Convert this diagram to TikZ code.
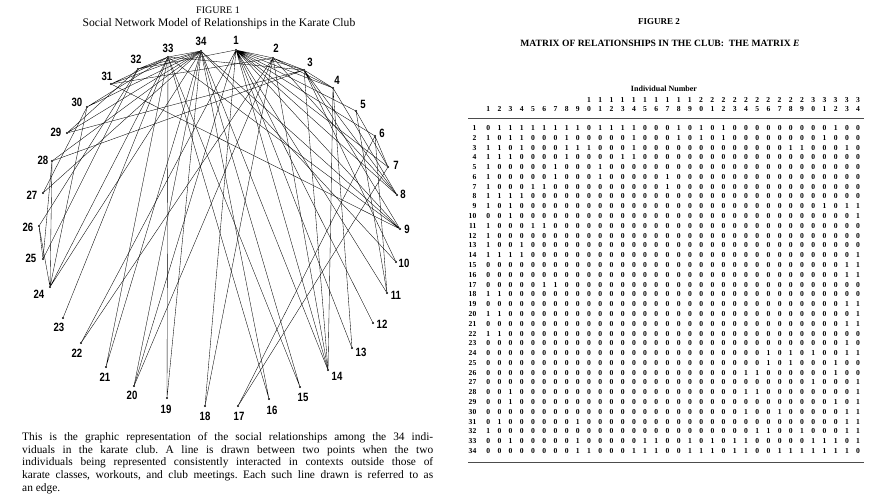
\documentclass[tikz,border=0pt]{standalone}
\usepackage{fontspec}
\setmainfont{Liberation Serif}
\newfontfamily\lblfont[FakeStretch=0.8]{Liberation Sans}
\usepackage{tikz}
\usetikzlibrary{shapes}
\newcommand{\mfont}{\fontsize{7.6bp}{8bp}\selectfont\bfseries}
\newcommand{\rl}[1]{\llap{#1\hspace{10bp}}}
\tikzset{
  vdot/.style={circle,fill=black,inner sep=0pt,minimum size=2.2bp},
  vlbl/.style={font=\lblfont\bfseries\fontsize{12bp}{12bp}\selectfont,inner sep=0pt},
  edge/.style={line width=0.35bp,black},
  mrow/.style={anchor=west,inner sep=0pt,font={\mfont\spaceskip=7.41bp\relax}},
  caprow/.style={anchor=base west,inner sep=0pt,font=\fontsize{11.4bp}{12bp}\selectfont\frenchspacing}
}

\begin{document}
\begin{tikzpicture}[x=1bp, y=-1bp]
  \useasboundingbox (0,0) rectangle (873,497);
%% figure 1: the club graph
  \node (fig1) at (218,10) [font=\fontsize{10bp}{10bp}\selectfont] {FIGURE 1};
  \node (fig1t) at (219,24) [font=\fontsize{11.6bp}{12bp}\selectfont] {Social Network Model of Relationships in the Karate Club};
  \node (v1) at (236,50) [vdot] {};
  \node (v2) at (273,58) [vdot] {};
  \node (v3) at (304,70) [vdot] {};
  \node (v4) at (333,88) [vdot] {};
  \node (v5) at (356,111) [vdot] {};
  \node (v6) at (375,136) [vdot] {};
  \node (v7) at (388,167) [vdot] {};
  \node (v8) at (397,195) [vdot] {};
  \node (v9) at (400,229) [vdot] {};
  \node (v10) at (396,262) [vdot] {};
  \node (v11) at (387,293) [vdot] {};
  \node (v12) at (373,323) [vdot] {};
  \node (v13) at (352,348) [vdot] {};
  \node (v14) at (328,370) [vdot] {};
  \node (v15) at (300,387) [vdot] {};
  \node (v16) at (269,399) [vdot] {};
  \node (v17) at (238,406) [vdot] {};
  \node (v18) at (205,406) [vdot] {};
  \node (v19) at (167,398) [vdot] {};
  \node (v20) at (134,386) [vdot] {};
  \node (v21) at (106,367) [vdot] {};
  \node (v22) at (81,343) [vdot] {};
  \node (v23) at (63,318) [vdot] {};
  \node (v24) at (50,287) [vdot] {};
  \node (v25) at (43,259) [vdot] {};
  \node (v26) at (39,226) [vdot] {};
  \node (v27) at (43,193) [vdot] {};
  \node (v28) at (52,161) [vdot] {};
  \node (v29) at (67,133) [vdot] {};
  \node (v30) at (87,107) [vdot] {};
  \node (v31) at (111,84) [vdot] {};
  \node (v32) at (138,69) [vdot] {};
  \node (v33) at (168,57) [vdot] {};
  \node (v34) at (201,51) [vdot] {};
  %% labels
  \node (n1) at (236,40) [vlbl] {1};
  \node (n2) at (276,48) [vlbl] {2};
  \node (n3) at (310,62) [vlbl] {3};
  \node (n4) at (337,80) [vlbl] {4};
  \node (n5) at (363,104) [vlbl] {5};
  \node (n6) at (382,133) [vlbl] {6};
  \node (n7) at (396,165) [vlbl] {7};
  \node (n8) at (403,194) [vlbl] {8};
  \node (n9) at (407,229) [vlbl] {9};
  \node (n10) at (404,263) [vlbl] {10};
  \node (n11) at (396,295) [vlbl] {11};
  \node (n12) at (382,324) [vlbl] {12};
  \node (n13) at (361,352) [vlbl] {13};
  \node (n14) at (337,376) [vlbl] {14};
  \node (n15) at (303,397) [vlbl] {15};
  \node (n16) at (272,410) [vlbl] {16};
  \node (n17) at (239,416) [vlbl] {17};
  \node (n18) at (205,416) [vlbl] {18};
  \node (n19) at (166,409) [vlbl] {19};
  \node (n20) at (132,395) [vlbl] {20};
  \node (n21) at (105,377) [vlbl] {21};
  \node (n22) at (77,353) [vlbl] {22};
  \node (n23) at (59,327) [vlbl] {23};
  \node (n24) at (39,294) [vlbl] {24};
  \node (n25) at (31,258) [vlbl] {25};
  \node (n26) at (28,227) [vlbl] {26};
  \node (n27) at (32,195) [vlbl] {27};
  \node (n28) at (43,160) [vlbl] {28};
  \node (n29) at (56,132) [vlbl] {29};
  \node (n30) at (77,102) [vlbl] {30};
  \node (n31) at (107,76) [vlbl] {31};
  \node (n32) at (136,59) [vlbl] {32};
  \node (n33) at (168,48) [vlbl] {33};
  \node (n34) at (201,41) [vlbl] {34};
  %% edges
  \draw [edge] (v1) -- (v2) (v1) -- (v3) (v1) -- (v4) (v1) -- (v5) (v1) -- (v6) (v1) -- (v7) (v1) -- (v8) (v1) -- (v9)
    (v1) -- (v11) (v1) -- (v12) (v1) -- (v13) (v1) -- (v14) (v1) -- (v18) (v1) -- (v20) (v1) -- (v22) (v1) -- (v32);
  \draw [edge] (v2) -- (v3) (v2) -- (v4) (v2) -- (v8) (v2) -- (v14) (v2) -- (v18) (v2) -- (v20) (v2) -- (v22) (v2) -- (v31);
  \draw [edge] (v3) -- (v4) (v3) -- (v8) (v3) -- (v9) (v3) -- (v10) (v3) -- (v14) (v3) -- (v28) (v3) -- (v29) (v3) -- (v33);
  \draw [edge] (v4) -- (v8) (v4) -- (v13) (v4) -- (v14);
  \draw [edge] (v5) -- (v7) (v5) -- (v11);
  \draw [edge] (v6) -- (v7) (v6) -- (v11) (v6) -- (v17);
  \draw [edge] (v7) -- (v17);
  \draw [edge] (v9) -- (v31) (v9) -- (v33) (v9) -- (v34);
  \draw [edge] (v10) -- (v34);
  \draw [edge] (v14) -- (v34);
  \draw [edge] (v15) -- (v33) (v15) -- (v34);
  \draw [edge] (v16) -- (v33) (v16) -- (v34);
  \draw [edge] (v19) -- (v33) (v19) -- (v34);
  \draw [edge] (v20) -- (v34);
  \draw [edge] (v21) -- (v33) (v21) -- (v34);
  \draw [edge] (v23) -- (v33);
  \draw [edge] (v24) -- (v26) (v24) -- (v28) (v24) -- (v30) (v24) -- (v33) (v24) -- (v34);
  \draw [edge] (v25) -- (v26) (v25) -- (v28) (v25) -- (v32);
  \draw [edge] (v26) -- (v32);
  \draw [edge] (v27) -- (v30) (v27) -- (v34);
  \draw [edge] (v28) -- (v34);
  \draw [edge] (v29) -- (v32) (v29) -- (v34);
  \draw [edge] (v30) -- (v33) (v30) -- (v34);
  \draw [edge] (v31) -- (v33) (v31) -- (v34);
  \draw [edge] (v32) -- (v33) (v32) -- (v34);
  \draw [edge] (v33) -- (v34);
  %% caption
  \node (cap1) at (22,440.5) [caprow] {\makebox[411bp][s]{This is the graphic representation of the social relationships among the 34 indi-}};
  \node (cap2) at (22,453.2) [caprow] {\makebox[411bp][s]{viduals in the karate club. A line is drawn between two points when the two}};
  \node (cap3) at (22,465.9) [caprow] {\makebox[411bp][s]{individuals being represented consistently interacted in contexts outside those of}};
  \node (cap4) at (22,478.6) [caprow] {\makebox[411bp][s]{karate classes, workouts, and club meetings. Each such line drawn is referred to as}};
  \node (cap5) at (22,491.3) [caprow] {an edge.};
%% figure 2: the matrix E
  \node (fig2) at (659,22) [font=\fontsize{9bp}{9bp}\selectfont\bfseries] {FIGURE 2};
  \node (fig2t) at (660,43) [font=\fontsize{9.6bp}{10bp}\selectfont\bfseries] {MATRIX OF RELATIONSHIPS IN THE CLUB:\ \ THE MATRIX \textit{E}};
  \node (ind) at (664,89) [font=\fontsize{8bp}{8bp}\selectfont\bfseries] {Individual Number};
  \node (tens) at (586.9,100) [mrow] {1 1 1 1 1 1 1 1 1 1 2 2 2 2 2 2 2 2 2 2 3 3 3 3 3};
  \node (units) at (486.1,109) [mrow] {1 2 3 4 5 6 7 8 9 0 1 2 3 4 5 6 7 8 9 0 1 2 3 4 5 6 7 8 9 0 1 2 3 4};
  \draw [line width=0.6bp,black!70] (468,118) -- (864,118);
  \node (r1) at (486.1,128.0) [mrow] {\rl{1}0 1 1 1 1 1 1 1 1 0 1 1 1 1 0 0 0 1 0 1 0 1 0 0 0 0 0 0 0 0 0 1 0 0};
  \node (r2) at (486.1,137.8) [mrow] {\rl{2}1 0 1 1 0 0 0 1 0 0 0 0 0 1 0 0 0 1 0 1 0 1 0 0 0 0 0 0 0 0 1 0 0 0};
  \node (r3) at (486.1,147.6) [mrow] {\rl{3}1 1 0 1 0 0 0 1 1 1 0 0 0 1 0 0 0 0 0 0 0 0 0 0 0 0 0 1 1 0 0 0 1 0};
  \node (r4) at (486.1,157.4) [mrow] {\rl{4}1 1 1 0 0 0 0 1 0 0 0 0 1 1 0 0 0 0 0 0 0 0 0 0 0 0 0 0 0 0 0 0 0 0};
  \node (r5) at (486.1,167.2) [mrow] {\rl{5}1 0 0 0 0 0 1 0 0 0 1 0 0 0 0 0 0 0 0 0 0 0 0 0 0 0 0 0 0 0 0 0 0 0};
  \node (r6) at (486.1,177.0) [mrow] {\rl{6}1 0 0 0 0 0 1 0 0 0 1 0 0 0 0 0 1 0 0 0 0 0 0 0 0 0 0 0 0 0 0 0 0 0};
  \node (r7) at (486.1,186.7) [mrow] {\rl{7}1 0 0 0 1 1 0 0 0 0 0 0 0 0 0 0 1 0 0 0 0 0 0 0 0 0 0 0 0 0 0 0 0 0};
  \node (r8) at (486.1,196.5) [mrow] {\rl{8}1 1 1 1 0 0 0 0 0 0 0 0 0 0 0 0 0 0 0 0 0 0 0 0 0 0 0 0 0 0 0 0 0 0};
  \node (r9) at (486.1,206.3) [mrow] {\rl{9}1 0 1 0 0 0 0 0 0 0 0 0 0 0 0 0 0 0 0 0 0 0 0 0 0 0 0 0 0 0 1 0 1 1};
  \node (r10) at (486.1,216.1) [mrow] {\rl{10}0 0 1 0 0 0 0 0 0 0 0 0 0 0 0 0 0 0 0 0 0 0 0 0 0 0 0 0 0 0 0 0 0 1};
  \node (r11) at (486.1,225.9) [mrow] {\rl{11}1 0 0 0 1 1 0 0 0 0 0 0 0 0 0 0 0 0 0 0 0 0 0 0 0 0 0 0 0 0 0 0 0 0};
  \node (r12) at (486.1,235.7) [mrow] {\rl{12}1 0 0 0 0 0 0 0 0 0 0 0 0 0 0 0 0 0 0 0 0 0 0 0 0 0 0 0 0 0 0 0 0 0};
  \node (r13) at (486.1,245.5) [mrow] {\rl{13}1 0 0 1 0 0 0 0 0 0 0 0 0 0 0 0 0 0 0 0 0 0 0 0 0 0 0 0 0 0 0 0 0 0};
  \node (r14) at (486.1,255.3) [mrow] {\rl{14}1 1 1 1 0 0 0 0 0 0 0 0 0 0 0 0 0 0 0 0 0 0 0 0 0 0 0 0 0 0 0 0 0 1};
  \node (r15) at (486.1,265.1) [mrow] {\rl{15}0 0 0 0 0 0 0 0 0 0 0 0 0 0 0 0 0 0 0 0 0 0 0 0 0 0 0 0 0 0 0 0 1 1};
  \node (r16) at (486.1,274.9) [mrow] {\rl{16}0 0 0 0 0 0 0 0 0 0 0 0 0 0 0 0 0 0 0 0 0 0 0 0 0 0 0 0 0 0 0 0 1 1};
  \node (r17) at (486.1,284.6) [mrow] {\rl{17}0 0 0 0 0 1 1 0 0 0 0 0 0 0 0 0 0 0 0 0 0 0 0 0 0 0 0 0 0 0 0 0 0 0};
  \node (r18) at (486.1,294.4) [mrow] {\rl{18}1 1 0 0 0 0 0 0 0 0 0 0 0 0 0 0 0 0 0 0 0 0 0 0 0 0 0 0 0 0 0 0 0 0};
  \node (r19) at (486.1,304.2) [mrow] {\rl{19}0 0 0 0 0 0 0 0 0 0 0 0 0 0 0 0 0 0 0 0 0 0 0 0 0 0 0 0 0 0 0 0 1 1};
  \node (r20) at (486.1,314.0) [mrow] {\rl{20}1 1 0 0 0 0 0 0 0 0 0 0 0 0 0 0 0 0 0 0 0 0 0 0 0 0 0 0 0 0 0 0 0 1};
  \node (r21) at (486.1,323.8) [mrow] {\rl{21}0 0 0 0 0 0 0 0 0 0 0 0 0 0 0 0 0 0 0 0 0 0 0 0 0 0 0 0 0 0 0 0 1 1};
  \node (r22) at (486.1,333.6) [mrow] {\rl{22}1 1 0 0 0 0 0 0 0 0 0 0 0 0 0 0 0 0 0 0 0 0 0 0 0 0 0 0 0 0 0 0 0 0};
  \node (r23) at (486.1,343.4) [mrow] {\rl{23}0 0 0 0 0 0 0 0 0 0 0 0 0 0 0 0 0 0 0 0 0 0 0 0 0 0 0 0 0 0 0 0 1 0};
  \node (r24) at (486.1,353.2) [mrow] {\rl{24}0 0 0 0 0 0 0 0 0 0 0 0 0 0 0 0 0 0 0 0 0 0 0 0 0 1 0 1 0 1 0 0 1 1};
  \node (r25) at (486.1,363.0) [mrow] {\rl{25}0 0 0 0 0 0 0 0 0 0 0 0 0 0 0 0 0 0 0 0 0 0 0 0 0 1 0 1 0 0 0 1 0 0};
  \node (r26) at (486.1,372.8) [mrow] {\rl{26}0 0 0 0 0 0 0 0 0 0 0 0 0 0 0 0 0 0 0 0 0 0 0 1 1 0 0 0 0 0 0 1 0 0};
  \node (r27) at (486.1,382.5) [mrow] {\rl{27}0 0 0 0 0 0 0 0 0 0 0 0 0 0 0 0 0 0 0 0 0 0 0 0 0 0 0 0 0 1 0 0 0 1};
  \node (r28) at (486.1,392.3) [mrow] {\rl{28}0 0 1 0 0 0 0 0 0 0 0 0 0 0 0 0 0 0 0 0 0 0 0 1 1 0 0 0 0 0 0 0 0 1};
  \node (r29) at (486.1,402.1) [mrow] {\rl{29}0 0 1 0 0 0 0 0 0 0 0 0 0 0 0 0 0 0 0 0 0 0 0 0 0 0 0 0 0 0 0 1 0 1};
  \node (r30) at (486.1,411.9) [mrow] {\rl{30}0 0 0 0 0 0 0 0 0 0 0 0 0 0 0 0 0 0 0 0 0 0 0 1 0 0 1 0 0 0 0 0 1 1};
  \node (r31) at (486.1,421.7) [mrow] {\rl{31}0 1 0 0 0 0 0 0 1 0 0 0 0 0 0 0 0 0 0 0 0 0 0 0 0 0 0 0 0 0 0 0 1 1};
  \node (r32) at (486.1,431.5) [mrow] {\rl{32}1 0 0 0 0 0 0 0 0 0 0 0 0 0 0 0 0 0 0 0 0 0 0 0 1 1 0 0 1 0 0 0 1 1};
  \node (r33) at (486.1,441.3) [mrow] {\rl{33}0 0 1 0 0 0 0 0 1 0 0 0 0 0 1 1 0 0 1 0 1 0 1 1 0 0 0 0 0 1 1 1 0 1};
  \node (r34) at (486.1,451.1) [mrow] {\rl{34}0 0 0 0 0 0 0 0 1 1 0 0 0 1 1 1 0 0 1 1 1 0 1 1 0 0 1 1 1 1 1 1 1 0};
  \draw [line width=0.6bp,black!70] (468,462) -- (864,462);
\end{tikzpicture}
\end{document}
